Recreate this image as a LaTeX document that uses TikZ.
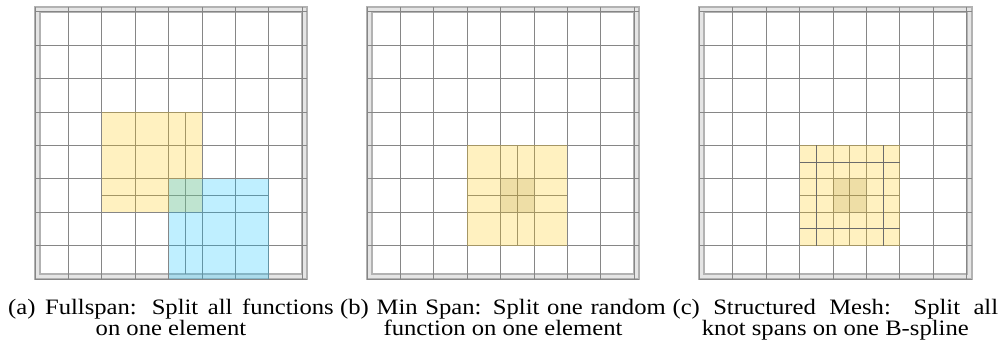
\documentclass[tikz,border=0pt]{standalone}
\usepackage{fontspec}
\setmainfont{Liberation Serif}[FakeStretch=1.12]
\usepackage{tikz}
\usetikzlibrary{positioning}
\definecolor{splinegold}{HTML}{FFC703}
\definecolor{splinecyan}{HTML}{00BFFF}
\definecolor{splinetan}{HTML}{A08A30}
\definecolor{meshgrey}{HTML}{808080}

\begin{document}
\begin{tikzpicture}[x=15.03pt,y=15.03pt, every node/.style={font=\fontsize{9.9}{9}\selectfont, inner sep=0pt},
  meshline/.style={meshgrey!95, line width=0.4pt},
  framebox/.style={black!30, line width=0.9pt},
  darksplit/.style={black!58, line width=0.45pt},
  goldfn/.style={fill=splinegold, fill opacity=0.25},
  cyanfn/.style={fill=splinecyan, fill opacity=0.25},
  hitelem/.style={fill=splinetan, fill opacity=0.18}]
\useasboundingbox (-1.048,-2.006) rectangle (28.98,8.353);
% three 8x8 meshes with double frame
\foreach \ox in {0,9.94,19.89} {
  \begin{scope}[shift={(\ox,0)}]
    \fill[black!10, even odd rule] (0,0) rectangle (8.15,8.15) (0.15,0.15) rectangle (8,8);
    \draw[framebox] (0,0) rectangle (8.15,8.15);
    \draw[framebox] (0.15,0.15) rectangle (8,8);
    \draw[step=1, meshline] (0,0) grid (8.15,8.15);
  \end{scope}
}
% (a) full span
\draw[meshline] (4.5,0.15) -- (4.5,5);
\draw[meshline] (2,2.5) -- (7,2.5);
\fill[goldfn] (2,2) rectangle (5,5);
\fill[cyanfn] (4,0) rectangle (7,3);
% (b) min span
\begin{scope}[shift={(9.94,0)}]
  \draw[meshline] (4.5,1) -- (4.5,4);
  \draw[meshline] (3,2.5) -- (6,2.5);
  \fill[goldfn] (3,1) rectangle (6,4);
  \fill[hitelem] (4,2) rectangle (5,3);
\end{scope}
% (c) structured mesh
\begin{scope}[shift={(19.89,0)}]
  \draw[meshline] (4.5,1) -- (4.5,4);
  \draw[meshline] (3,2.5) -- (6,2.5);
  \fill[goldfn] (3,1) rectangle (6,4);
  \fill[hitelem] (4,2) rectangle (5,3);
  \foreach \s in {3.5,5.5} \draw[darksplit] (\s,1) -- (\s,4);
  \foreach \s in {1.5,3.5} \draw[darksplit] (3,\s) -- (6,\s);
\end{scope}
% captions
\node[anchor=base] (capa) at (4.07,-1.048) {\makebox[146.5pt][s]{(a) Fullspan: Split all functions}};
\node[anchor=base] (capa2) at (4.07,-1.68) {on one element};
\node[anchor=base] (capb) at (14.01,-1.048) {\makebox[146.5pt][s]{(b) Min Span: Split one random}};
\node[anchor=base] (capb2) at (14.01,-1.68) {function on one element};
\node[anchor=base] (capc) at (23.96,-1.048) {\makebox[146.5pt][s]{(c) Structured Mesh: Split all}};
\node[anchor=base] (capc2) at (23.96,-1.68) {knot spans on one B-spline};
\end{tikzpicture}
\end{document}
